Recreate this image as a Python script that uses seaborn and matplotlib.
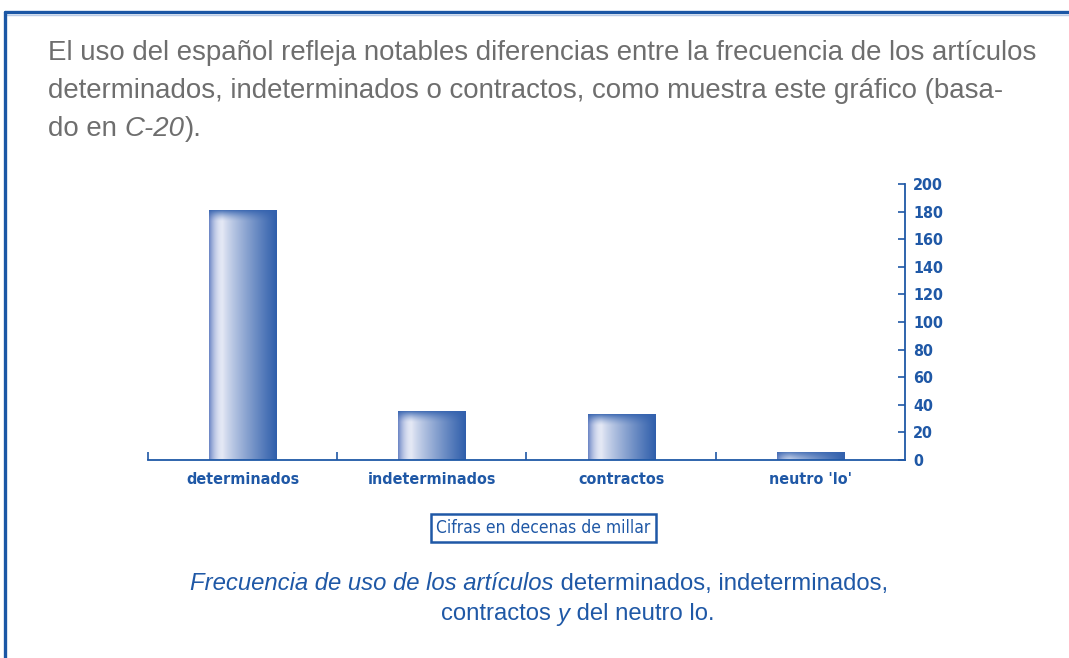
import numpy as np
import pandas as pd
import matplotlib
matplotlib.use("Agg")
import matplotlib.pyplot as plt
import seaborn as sns
from matplotlib.lines import Line2D
from matplotlib.colors import to_rgb

categories = ["determinados", "indeterminados", "contractos", "neutro 'lo'"]
values = [181, 35.5, 33, 6]
yticks = [0, 20, 40, 60, 80, 100, 120, 140, 160, 180, 200]

BLUE = "#1f58a6"
GREY = "#6e6e6e"

sns.set_theme(style="white")
plt.rcParams["font.family"] = ["Liberation Sans", "DejaVu Sans"]

W, H = 1069, 658
fig = plt.figure(figsize=(W / 100, H / 100), dpi=100)
fig.patch.set_facecolor("white")

def fx(px):
    return px / W

def fy(py):
    return 1 - py / H

ax = fig.add_axes([fx(148), fy(460), fx(905) - fx(148), (460 - 184) / H])
df = pd.DataFrame({"cat": categories, "val": values})
sns.barplot(data=df, x="cat", y="val", ax=ax, color="#5b7cc0", width=0.355,
            saturation=1, edgecolor="none")
ax.set_xlim(-0.5, 3.5)
ax.set_ylim(0, 200)
ax.set_xlabel("")
ax.set_ylabel("")

# gradient fill for each bar
edge_l = np.array(to_rgb("#6a84c4"))
dark = np.array(to_rgb("#2f5eab"))
light = np.array(to_rgb("#e4e8f5"))
topc = np.array(to_rgb("#3462ae"))
xs = np.linspace(0, 1, 200)
prof = np.zeros((200, 3))
for i, t in enumerate(xs):
    if t < 0.2:
        a = t / 0.2
        prof[i] = edge_l * (1 - a) ** 2 + light * (1 - (1 - a) ** 2)
    else:
        a = (t - 0.2) / 0.8
        prof[i] = light * (1 - a ** 0.85) + dark * a ** 0.85
fig.canvas.draw()
for p in ax.patches:
    x0, y0 = p.get_x(), p.get_y()
    w, h = p.get_width(), p.get_height()
    (px0, py0), (px1, py1) = ax.transData.transform([(x0, y0), (x0 + w, y0 + h)])
    nrows = max(int(round(py1 - py0)), 2)
    img = np.tile(prof[None, :, :], (nrows, 1, 1))
    rows = np.arange(nrows)
    topw = np.clip(1 - rows / 11.0, 0, 1)[:, None] ** 1.5
    img = img * (1 - topw[:, :, None] * 0.85) + topc * topw[:, :, None] * 0.85
    im = ax.imshow(img, extent=[x0, x0 + w, y0, y0 + h], aspect="auto",
                   origin="upper", zorder=p.get_zorder() + 0.1, interpolation="bilinear")
    im.set_clip_path(p)
ax.set_xlim(-0.5, 3.5)
ax.set_ylim(0, 200)

for s in ["left", "top"]:
    ax.spines[s].set_visible(False)
for s in ["bottom", "right"]:
    ax.spines[s].set_color(BLUE)
    ax.spines[s].set_linewidth(1.3)

ax.yaxis.tick_right()
ax.set_yticks(yticks)
ax.set_yticklabels([str(v) for v in yticks])
ax.tick_params(axis="y", direction="in", length=5, width=1.2, colors=BLUE, pad=6,
               right=True, left=False)
ax.set_xticks(range(len(categories)))
ax.set_xticklabels(categories)
ax.tick_params(axis="x", length=0, pad=9, colors=BLUE)
ax.set_xticks([-0.5, 0.5, 1.5, 2.5], minor=True)
ax.tick_params(axis="x", which="minor", direction="in", length=6, width=1.2,
               color=BLUE, bottom=True)
for lab in ax.get_xticklabels() + ax.get_yticklabels():
    lab.set_fontfamily(["DejaVu Sans"])
    lab.set_fontstretch("condensed")
    lab.set_fontweight("bold")
    lab.set_fontsize(11.5)
    lab.set_color(BLUE)
ax.grid(False)

# frame lines
fig.add_artist(Line2D([fx(5), 1], [fy(12), fy(12)], color="#1b57a5", lw=2.4))
fig.add_artist(Line2D([fx(5), 1], [fy(14.8), fy(14.8)], color="#b9cbe6", lw=1.0))
fig.add_artist(Line2D([fx(5), fx(5)], [fy(12), 0], color="#1b57a5", lw=2.4))

# paragraph text
para_kw = dict(color=GREY, fontsize=19.9, va="center", ha="left",
               family=["Liberation Sans", "DejaVu Sans"])
fig.text(fx(48), fy(53), "El uso del español refleja notables diferencias entre la frecuencia de los artículos", **para_kw)
fig.text(fx(48), fy(91), "determinados, indeterminados o contractos, como muestra este gráfico (basa-", **para_kw)
t1 = fig.text(fx(48), fy(129), "do en ", **para_kw)
fig.canvas.draw()
r = fig.canvas.get_renderer()
bb = t1.get_window_extent(r)
t2 = fig.text(bb.x1 / W, fy(129), "C-20", style="italic", **para_kw)
bb2 = t2.get_window_extent(r)
fig.text(bb2.x1 / W, fy(129), ").", **para_kw)

# units box
fig.text(fx(543.5), fy(528), "Cifras en decenas de millar", ha="center", va="center",
         color=BLUE, fontsize=12.5, family=["DejaVu Sans"], fontstretch="condensed",
         bbox=dict(boxstyle="square,pad=0.3", facecolor="white", edgecolor=BLUE, lw=1.8))

# caption
cap_kw = dict(color=BLUE, fontsize=17.2, va="center", ha="left",
              family=["Liberation Sans", "DejaVu Sans"])
c1 = fig.text(fx(190), fy(584), "Frecuencia de uso de los artículos", style="italic", **cap_kw)
fig.canvas.draw()
b = c1.get_window_extent(r)
fig.text(b.x1 / W, fy(584), " determinados, indeterminados,", **cap_kw)
c3 = fig.text(fx(441), fy(614), "contractos ", **cap_kw)
fig.canvas.draw()
b = c3.get_window_extent(r)
c4 = fig.text(b.x1 / W, fy(614), "y", style="italic", **cap_kw)
fig.canvas.draw()
b = c4.get_window_extent(r)
fig.text(b.x1 / W, fy(614), " del neutro lo.", **cap_kw)

fig.savefig("out.png", dpi=100, facecolor="white")
